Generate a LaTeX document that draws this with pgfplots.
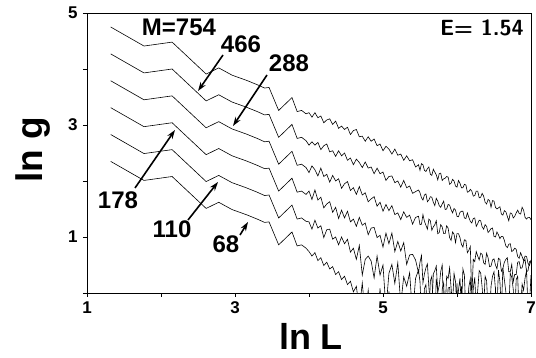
\documentclass[border=0pt]{standalone}
\usepackage{pgfplots}
\pgfplotsset{compat=1.18}
\usepackage{pgfplotstable}
\usepackage{fontspec}
\setmainfont{Liberation Sans}
\usetikzlibrary{arrows.meta}
\newcommand{\tl}[1]{{\fontsize{17}{17}\selectfont\bfseries #1}}
% columns: a=M754, b=M466, c=M288, d=M178, e=M110, f=M68
\pgfplotstableread{
x a b c d e f
1.32 4.75 4.27 3.79 3.31 2.83 2.35
1.77 4.41 3.93 3.45 2.97 2.49 2.01
2.15 4.48 4.00 3.52 3.04 2.56 2.08
2.61 3.91 3.43 2.95 2.47 1.99 1.51
2.78 4.02 3.54 3.06 2.58 2.10 1.62
2.96 3.89 3.41 2.93 2.45 1.97 1.49
3.15 3.80 3.32 2.84 2.36 1.88 1.40
3.30 3.72 3.24 2.76 2.28 1.80 1.32
3.40 3.66 3.18 2.70 2.22 1.74 1.26
3.46 3.67 3.19 2.71 2.23 1.75 1.27
3.59 3.26 2.78 2.30 1.82 1.34 0.86
3.70 3.40 2.92 2.44 1.96 1.48 1.00
3.77 3.49 3.01 2.53 2.05 1.57 1.09
3.84 3.24 2.76 2.28 1.80 1.32 0.84
3.90 3.26 2.78 2.30 1.82 1.34 0.86
3.96 3.20 2.72 2.24 1.76 1.28 0.80
4.00 3.22 2.64 2.15 1.82 1.27 0.74
4.04 3.14 2.70 2.27 1.67 1.14 0.66
4.08 3.22 2.64 2.20 1.84 1.30 0.72
4.12 3.13 2.69 2.09 1.66 1.16 0.58
4.16 3.16 2.56 2.23 1.71 1.20 0.63
4.20 3.04 2.63 2.08 1.52 0.99 0.49
4.24 3.09 2.66 2.12 1.59 1.13 0.55
4.28 3.11 2.52 1.98 1.63 1.14 0.43
4.32 3.01 2.54 2.10 1.44 0.96 0.47
4.36 3.07 2.44 2.00 1.53 1.00 0.33
4.40 2.94 2.54 2.04 1.33 0.86 0.38
4.44 2.98 2.45 1.87 1.48 1.00 0.24
4.48 2.92 2.50 1.95 1.34 0.88 0.30
4.52 2.96 2.37 1.99 1.46 0.96 0.15
4.56 2.83 2.41 1.83 1.27 0.73 0.21
4.60 2.90 2.29 1.88 1.32 0.80 0.02
4.64 2.92 2.39 1.76 1.19 0.60 0.12
4.68 2.79 2.33 1.90 1.35 0.85 -0.3
4.72 2.80 2.24 1.75 1.21 0.32 0.18
4.76 2.71 2.34 1.79 1.25 0.60 -0.4
4.80 2.79 2.23 1.63 1.04 0.66 0.05
4.84 2.71 2.25 1.68 1.16 0.57 -0.5
4.88 2.75 2.13 1.72 1.17 0.27 -0.2
4.92 2.63 2.23 1.55 0.99 0.66 -0.6
4.96 2.66 2.13 1.62 1.03 0.32 0.08
5.00 2.54 2.16 1.46 0.82 0.50 -0.5
5.04 2.62 2.01 1.58 1.07 -0.3 -0.7
5.08 2.57 2.08 1.47 0.88 0.35 0.03
5.12 2.48 2.09 1.56 1.07 0.51 -0.6
5.16 2.57 1.97 1.40 0.74 0.17 -0.8
5.20 2.46 2.00 1.43 0.92 0.54 -0.5
5.24 2.48 1.89 1.31 0.75 -0.2 -0.9
5.28 2.37 2.01 1.45 0.90 0.29 -0.7
5.32 2.45 1.88 1.35 0.51 0.12 -1
5.36 2.36 1.91 1.39 0.68 0.36 -1
5.40 2.38 1.78 1.23 0.69 -0.4 -1
5.44 2.25 1.81 1.35 0.59 0.26 -1
5.48 2.29 1.84 1.37 0.36 0.41 -1
5.50 2.19 1.79 1.22 0.55 0.20 -1
5.52 2.31 1.70 1.23 0.67 -0.4 -1
5.54 2.29 1.66 1.40 0.18 -0.5 -1
5.56 2.19 1.75 1.28 0.34 0.08 -1
5.58 2.17 1.77 1.21 0.45 0.15 -1
5.60 2.22 1.63 1.14 0.52 -0.4 -1
5.62 2.25 1.66 1.32 0.10 -0.4 -1
5.64 2.12 1.72 1.29 -0.2 0.22 -1
5.66 2.10 1.71 1.12 -0.3 0.30 -1
5.68 2.21 1.62 1.18 0.34 -0.3 -1
5.70 2.16 1.56 1.22 0.40 -0.5 -1
5.72 2.11 1.69 1.29 0.48 0.25 -1
5.74 2.02 1.64 1.06 0.02 0.05 -1
5.76 2.13 1.56 1.08 0.13 -0.5 -1
5.78 2.14 1.53 1.22 0.38 -0.6 -1
5.80 2.01 1.59 1.18 0.50 0.07 -1
5.82 2.04 1.64 1.06 -0.3 0.18 -1
5.84 2.05 1.49 1.06 -0.3 -0.6 -1
5.86 2.08 1.50 1.20 0.30 -0.5 -1
5.88 2.07 1.58 1.16 0.26 0.09 -1
5.90 1.94 1.57 0.99 0.45 0.10 -1
5.92 1.96 1.49 0.94 0.09 -0.2 -1
5.94 2.03 1.43 1.09 -0.2 -0.6 -1
5.96 2.00 1.51 1.05 0.35 -0.5 -1
5.98 1.91 1.48 0.90 0.20 -0.3 -1
6.00 1.89 1.37 1.06 -0.3 0.17 -1
6.02 2.01 1.36 1.06 0.05 -0.7 -1
6.04 1.96 1.44 0.99 0.26 -0.5 -1
6.06 1.88 1.46 0.87 -0.3 0.12 -1
6.08 1.88 1.46 0.82 0.43 -0.4 -1
6.10 1.94 1.34 0.95 0.32 -0.6 -1
6.12 1.93 1.33 0.94 -0.4 -0.6 -1
6.14 1.80 1.43 0.72 -0.4 -0.8 -1
6.16 1.81 1.35 0.76 0.11 0.05 -1
6.18 1.85 1.28 0.83 0.25 -0.5 -1
6.20 1.82 1.25 -0.10 -0.4 -0.6 -1
6.22 1.73 1.33 0.60 0.08 -0.9 -1
6.24 1.74 1.34 0.56 0.28 -0.6 -1
6.26 1.82 1.19 0.74 -0.3 -0.6 -1
6.28 1.82 1.24 0.66 0.05 -0.4 -1
6.30 1.70 1.30 0.59 0.40 -0.1 -1
6.32 1.71 1.29 0.71 0.36 -0.7 -1
6.34 1.78 1.18 0.69 0.10 -0.8 -1
6.36 1.73 1.14 0.54 -0.3 -0.5 -1
6.38 1.62 1.22 0.51 0.30 -0.6 -1
6.40 1.59 1.19 0.71 0.22 -0.8 -1
6.42 1.67 1.08 0.63 -0.3 -0.9 -1
6.44 1.65 1.11 0.47 -0.4 -0.05 -1
6.46 1.53 1.15 0.48 0.12 -0.5 -1
6.48 1.65 1.16 0.59 0.30 -0.6 -1
6.50 1.64 1.01 0.61 0.38 -0.8 -1
6.52 1.53 1.00 0.50 0.06 0.10 -1
6.54 1.50 1.09 0.43 -0.3 -0.6 -1
6.56 1.52 1.04 0.62 0.41 -0.7 -1
6.58 1.54 0.97 0.60 0.20 -0.9 -1
6.60 1.41 1.01 0.39 -0.3 -0.5 -1
6.62 1.39 1.01 0.44 0.45 -0.2 -1
6.64 1.47 0.94 0.55 0.24 -0.9 -1
6.66 1.45 0.84 0.60 0.02 -0.8 -1
6.68 1.37 0.81 0.63 -0.3 -0.4 -1
6.70 1.29 0.87 0.38 -0.3 -0.6 -1
6.72 1.43 0.88 0.38 0.35 -0.8 -1
6.74 1.42 0.74 0.51 0.28 -0.9 -1
6.76 1.34 0.76 0.20 0.07 -0.6 -1
6.78 1.37 0.80 0.33 -0.4 -0.7 -1
6.80 1.43 0.78 0.33 0.24 -0.9 -1
6.82 1.48 0.65 0.55 0.30 -0.9 -1
6.84 1.42 0.62 0.56 -0.4 -0.5 -1
6.86 1.41 0.72 0.44 -0.3 -0.6 -1
6.88 1.53 0.65 0.45 0.16 0.05 -1
6.90 1.48 0.58 0.56 0.05 -0.8 -1
6.92 1.35 0.66 0.60 0.27 -0.7 -1
6.94 1.32 0.65 0.38 0.40 -0.9 -1
6.96 1.35 0.53 0.40 -0.3 -0.9 -1
6.98 1.35 0.49 0.56 -0.2 -0.7 -1
7.00 1.31 0.59 0.55 0.32 -0.8 -1
}\curves
\begin{document}
\begin{tikzpicture}
\path[use as bounding box] (-87pt,-65pt) rectangle (449pt,293pt);
\begin{axis}[
  at={(0pt,0pt)}, anchor=south west,
  scale only axis, width=444pt, height=280pt,
  xmin=1, xmax=7, ymin=0, ymax=5,
  xtick={1,2,3,4,5,6,7}, xticklabels={\tl{1},,\tl{3},,\tl{5},,\tl{7}},
  ytick={0,1,2,3,4,5}, yticklabels={,\tl{1},,\tl{3},,\tl{5}},
  tick align=outside, major tick length=4pt,
  xtick pos=bottom, ytick pos=left,
  xticklabel style={yshift=-1pt},
  yticklabel style={xshift=-2pt},
  axis line style={line width=0.7pt},
  every tick/.style={black, line width=0.7pt},
]
\addplot[black, line width=0.6pt] table[x=x,y=a]{\curves};
\addplot[black, line width=0.6pt] table[x=x,y=b]{\curves};
\addplot[black, line width=0.6pt] table[x=x,y=c]{\curves};
\addplot[black, line width=0.6pt] table[x=x,y=d]{\curves};
\addplot[black, line width=0.6pt] table[x=x,y=e]{\curves};
\addplot[black, line width=0.6pt] table[x=x,y=f]{\curves};
\end{axis}
\node[font=\fontsize{36}{36}\selectfont\bfseries, anchor=base, inner sep=0pt] at (224pt,-57pt) {ln L};
\node[font=\fontsize{37}{37}\selectfont\bfseries, anchor=base, rotate=90, inner sep=0pt] at (-44pt,143pt) {ln g};
\begin{scope}[every node/.style={font=\fontsize{24}{24}\selectfont\bfseries, inner sep=0pt}]
\node at (92pt,266pt) {M=754};
\node at (154pt,249pt) {466};
\node at (202pt,230pt) {288};
\node at (31pt,93pt) {178};
\node at (85pt,64pt) {110};
\node at (139pt,49pt) {68};
\end{scope}
\node[font=\fontsize{22}{22}\selectfont\sffamily\bfseries, inner sep=0pt, anchor=east] at (437pt,265.5pt) {E=\hspace{0.35em}1.54};
\begin{scope}[line width=1.6pt, -{Stealth[length=9pt,width=6pt]}]
\draw (136pt,238pt) -- (111pt,202pt);
\draw (180pt,218pt) -- (146pt,167pt);
\draw (48pt,105pt) -- (88pt,163pt);
\draw (101pt,73pt) -- (131pt,111pt);
\draw (153pt,58pt) -- (161pt,71pt);
\end{scope}
\end{tikzpicture}
\end{document}
